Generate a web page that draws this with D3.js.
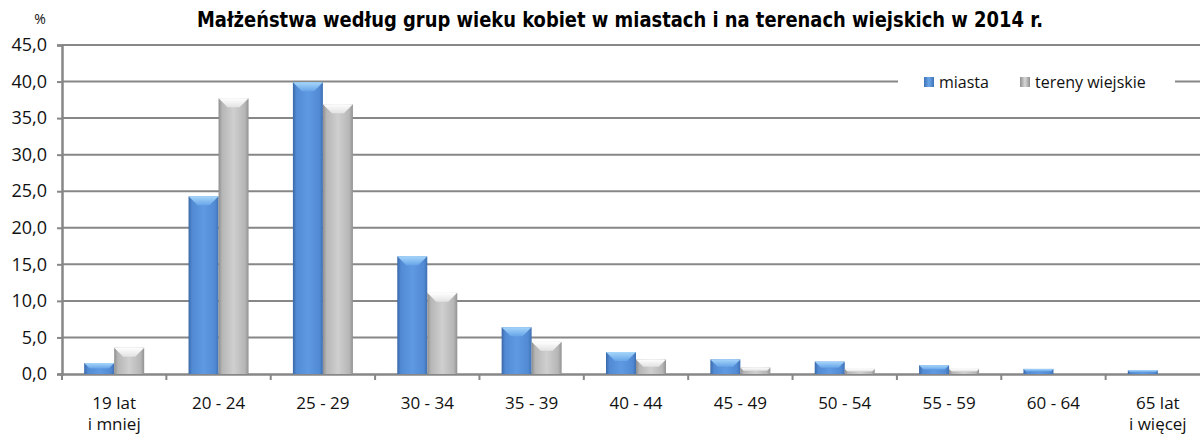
<!DOCTYPE html>
<html>
<head>
<meta charset="utf-8">
<script src="https://cdn.jsdelivr.net/npm/d3@7"></script>
<style>
  body { margin: 0; background: #fff; }
  svg { display: block; }
</style>
</head>
<body>
<script>
// dane
const categories = ["19 lat|i mniej", "20 - 24", "25 - 29", "30 - 34", "35 - 39", "40 - 44", "45 - 49", "50 - 54", "55 - 59", "60 - 64", "65 lat|i więcej"];
const miasta = [1.5, 24.3, 39.9, 16.1, 6.4, 3.0, 2.0, 1.7, 1.2, 0.7, 0.5];
const wiejskie = [3.6, 37.7, 36.9, 11.1, 4.4, 2.0, 0.9, 0.7, 0.7, 0.0, 0.0];
const seriesNames = ["miasta", "tereny wiejskie"];
const yTicks = [0, 5, 10, 15, 20, 25, 30, 35, 40, 45];

const W = 1200, H = 434;
const plotLeft = 62, plotRight = 1210, plotTop = 45, plotBottom = 374;
const labelFont = "'Open Sans', 'DejaVu Sans', sans-serif";

const svg = d3.select("body").append("svg")
    .attr("width", W)
    .attr("height", H);

const defs = svg.append("defs");
function hGrad(id, stops) {
    const g = defs.append("linearGradient").attr("id", id)
        .attr("x1", "0%").attr("x2", "100%").attr("y1", "0%").attr("y2", "0%");
    stops.forEach(s => g.append("stop").attr("offset", s[0]).attr("stop-color", s[1]));
}
function vGrad(id, stops) {
    const g = defs.append("linearGradient").attr("id", id)
        .attr("x1", "0%").attr("x2", "0%").attr("y1", "0%").attr("y2", "100%");
    stops.forEach(s => g.append("stop").attr("offset", s[0]).attr("stop-color", s[1]));
}
hGrad("blueBody", [["0%", "#3a68a8"], ["12%", "#528bd4"], ["50%", "#5e99e2"], ["88%", "#528bd4"], ["100%", "#3f70b4"]]);
vGrad("blueTop", [["0%", "#a6d6fa"], ["100%", "#67a4e8"]]);
hGrad("greyBody", [["0%", "#8e8e8e"], ["12%", "#b6b6b6"], ["50%", "#cfcfcf"], ["88%", "#b6b6b6"], ["100%", "#929292"]]);
vGrad("greyTop", [["0%", "#ffffff"], ["100%", "#e2e2e2"]]);
hGrad("blueKey", [["0%", "#3f72b8"], ["50%", "#6aa6e8"], ["100%", "#3f72b8"]]);
hGrad("greyKey", [["0%", "#8f8f8f"], ["50%", "#d8d8d8"], ["100%", "#8f8f8f"]]);

const x = d3.scaleBand()
    .domain(categories)
    .range([plotLeft, plotRight])
    .paddingInner(0.425)
    .paddingOuter(0.2125);
const xs = d3.scaleBand()
    .domain(seriesNames)
    .range([0, x.bandwidth()]);
const y = d3.scaleLinear()
    .domain([0, 45])
    .range([plotBottom, plotTop]);

// linie siatki
svg.append("g").selectAll("line")
    .data(yTicks.filter(d => d > 0))
    .enter().append("line")
    .attr("x1", plotLeft).attr("x2", W)
    .attr("y1", d => y(d)).attr("y2", d => y(d))
    .attr("stroke", "#878787")
    .attr("stroke-width", 2);

// oś Y
const yAxis = svg.append("g")
    .attr("transform", "translate(" + plotLeft + ",0)")
    .call(d3.axisLeft(y).tickValues(yTicks).tickSize(5).tickPadding(10)
        .tickFormat(d => d3.format(".1f")(d).replace(".", ",")));
yAxis.select(".domain").attr("stroke", "#878787").attr("stroke-width", 2.5);
yAxis.selectAll(".tick line").attr("stroke", "#878787").attr("stroke-width", 2);
yAxis.selectAll(".tick text")
    .style("font-family", labelFont)
    .style("font-size", "18px")
    .attr("fill", "#111");

// oś X
const xAxis = svg.append("g")
    .attr("transform", "translate(0," + plotBottom + ")")
    .call(d3.axisBottom(x).tickSize(0).tickFormat(""));
xAxis.select(".domain").attr("stroke", "#878787").attr("stroke-width", 2.5);
xAxis.selectAll(".tick").remove();
const step = x.step();
svg.append("g").selectAll("line")
    .data(d3.range(categories.length + 1))
    .enter().append("line")
    .attr("x1", i => plotLeft + i * step).attr("x2", i => plotLeft + i * step)
    .attr("y1", plotBottom).attr("y2", plotBottom + 6)
    .attr("stroke", "#878787")
    .attr("stroke-width", 2);

const catLabels = svg.append("g").selectAll("text")
    .data(categories)
    .enter().append("text")
    .attr("text-anchor", "middle")
    .style("font-family", labelFont)
    .style("font-size", "17px")
    .attr("fill", "#111");
catLabels.each(function(d) {
    const parts = d.split("|");
    const t = d3.select(this);
    parts.forEach((p, i) => {
        t.append("tspan")
            .attr("x", x(d) + x.bandwidth() / 2)
            .attr("y", 409 + i * 21)
            .text(p);
    });
});

// słupki
const rows = categories.map((c, i) => ({ cat: c, vals: [
    { s: seriesNames[0], v: miasta[i] },
    { s: seriesNames[1], v: wiejskie[i] }
]}));

const groups = svg.append("g").selectAll("g")
    .data(rows)
    .enter().append("g")
    .attr("transform", d => "translate(" + x(d.cat) + ",0)");

const bars = groups.selectAll("g")
    .data(d => d.vals.filter(o => o.v > 0))
    .enter().append("g");

bars.append("rect")
    .attr("x", d => xs(d.s))
    .attr("y", d => y(d.v))
    .attr("width", xs.bandwidth())
    .attr("height", d => plotBottom - y(d.v))
    .attr("fill", d => d.s === "miasta" ? "url(#blueBody)" : "url(#greyBody)");

bars.append("path")
    .attr("d", d => {
        const x0 = xs(d.s), x1 = x0 + xs.bandwidth();
        const t = y(d.v);
        const b = Math.min(9, (plotBottom - t) / 2, xs.bandwidth() / 3);
        return "M" + x0 + "," + t + "L" + x1 + "," + t +
            "L" + (x1 - b) + "," + (t + b) + "L" + (x0 + b) + "," + (t + b) + "Z";
    })
    .attr("fill", d => d.s === "miasta" ? "url(#blueTop)" : "url(#greyTop)");

// legenda
const legend = svg.append("g");
legend.append("rect")
    .attr("x", 898).attr("y", 70)
    .attr("width", 277).attr("height", 24)
    .attr("fill", "#fff");
const keys = [
    { name: seriesNames[0], x: 924, fill: "url(#blueKey)" },
    { name: seriesNames[1], x: 1020, fill: "url(#greyKey)" }
];
keys.forEach(k => {
    legend.append("rect")
        .attr("x", k.x).attr("y", 77)
        .attr("width", 10).attr("height", 10)
        .attr("fill", k.fill);
    legend.append("text")
        .attr("x", k.x + 15).attr("y", 88)
        .style("font-family", labelFont)
        .style("font-size", "16px")
        .attr("fill", "#111")
        .text(k.name);
});

// tytuł
svg.append("text")
    .attr("x", 620).attr("y", 27)
    .attr("text-anchor", "middle")
    .attr("textLength", 846)
    .attr("lengthAdjust", "spacingAndGlyphs")
    .style("font-family", "'Liberation Sans Narrow', 'DejaVu Sans Condensed', 'Liberation Sans', sans-serif")
    .style("font-stretch", "condensed")
    .style("font-weight", "bold")
    .style("font-size", "22px")
    .attr("fill", "#000")
    .text("Małżeństwa według grup wieku kobiet w miastach  i na terenach wiejskich w 2014 r.");

svg.append("text")
    .attr("x", 40).attr("y", 24)
    .attr("text-anchor", "middle")
    .style("font-family", labelFont)
    .style("font-size", "14px")
    .attr("fill", "#111")
    .text("%");
</script>
</body>
</html>
